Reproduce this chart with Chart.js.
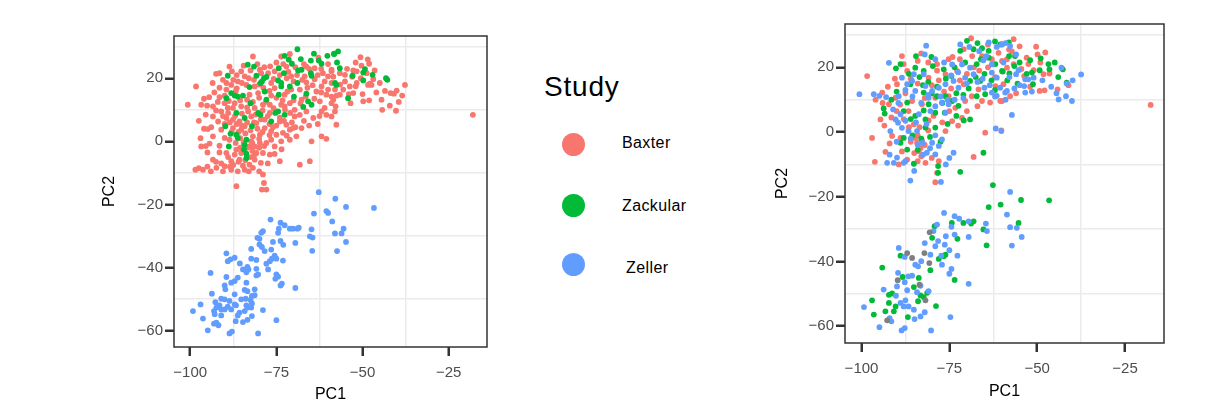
<!DOCTYPE html>
<html>
<head>
<meta charset="utf-8">
<script src="https://cdn.jsdelivr.net/npm/chart.js@4.4.0/dist/chart.umd.min.js"></script>
<style>
  body { margin: 0; background: #fff; font-family: "Liberation Sans", Arial, sans-serif; }
  #wrap { position: relative; width: 1210px; height: 404px; overflow: hidden; }
  canvas { position: absolute; top: 0; }
  .leg { position: absolute; line-height: 1; color: #000; white-space: nowrap; }
  .dot { position: absolute; width: 23px; height: 23px; border-radius: 50%; }
</style>
</head>
<body>
<div id="wrap">
  <canvas id="left" width="500" height="404" style="left:0"></canvas>
  <canvas id="right" width="510" height="404" style="left:700px"></canvas>
  <div id="legend"></div>
</div>
<script>
// ticks
const xTicks = [-100, -75, -50, -25];
const xMinor = [-87.5, -62.5, -37.5];
const yTicks = [-60, -40, -20, 0, 20];
const yMinor = [-50, -30, -10, 10, 30];

const studies = ['Baxter', 'Zackular', 'Zeller'];
const colors = ['#F8766D', '#00BA38', '#619CFF'];
const otherColor = '#7F7F7F';

// left panel: PC1/PC2 coloured by study
const baxterPts = [
  [-50.6,26.7],[-48.1,24.6],[-50.3,24.0],[-48.8,21.6],[-51.7,22.2],[-52.7,22.5],[-56.6,21.6],[-59.0,22.2],
  [-46.9,19.7],[-47.4,17.9],[-48.4,17.9],[-51.7,18.5],[-53.7,17.4],[-55.1,19.0],[-55.6,16.4],[-56.6,14.8],
  [-52.7,15.3],[-53.5,12.1],[-58.5,13.2],[-57.8,11.1],[-49.8,12.7],[-48.1,13.0],[-44.5,13.2],[-41.9,15.3],
  [-40.9,15.1],[-40.1,16.1],[-37.7,17.9],[-42.1,11.3],[-40.3,9.7],[-44.3,10.0],[-18.0,8.4],[-57.6,5.3],
  [-55.1,21.1],[-47.9,18.3],
  [-81.8,26.9],[-92.5,21.4],[-98.3,17.4],[-100.7,11.6],[-96.8,11.6],[-95.1,11.3],[-93.4,11.1],[-91.5,14.0],
  [-90.5,19.5],[-88.6,23.7],[-87.9,22.2],[-85.2,22.2],[-84.2,20.6],[-86.2,19.0],[-88.1,17.9],[-79.8,22.7],
  [-77.4,21.6],[-75.5,22.2],[-76.5,18.5],[-81.3,17.4],[-80.3,15.3],[-82.8,14.8],[-75.5,16.9],[-72.1,23.7],
  [-70.7,20.6],[-66.8,20.6],[-66.3,18.7],[-63.9,19.7],[-61.5,21.6],[-60.0,20.6],[-59.0,22.7],[-61.9,17.4],
  [-60.0,16.4],[-63.4,15.8],[-59.0,14.2],[-62.4,12.7],[-61.0,10.6],[-59.0,12.1],[-68.2,16.4],[-67.7,13.2],
  [-71.1,12.1],[-72.6,14.8],[-73.6,11.6],[-76.9,11.6],[-78.9,11.6],[-81.3,10.6],[-85.2,11.1],[-87.6,10.6],
  [-89.1,10.6],[-91.0,9.5],[-93.4,7.9],[-91.9,6.3],[-93.9,4.5],[-94.9,3.9],[-91.0,3.7],[-93.4,1.6],
  [-96.8,-1.6],[-94.4,-0.7],[-90.0,1.1],[-87.6,4.2],[-85.7,6.3],[-84.2,4.8],[-82.3,7.9],[-80.8,5.8],
  [-78.4,6.9],[-78.4,4.2],[-79.8,2.1],[-81.8,1.6],[-82.8,-1.6],[-81.3,-1.6],[-80.8,-3.7],[-85.2,-3.7],
  [-86.6,-2.6],[-87.1,-4.2],[-85.7,-5.8],[-81.3,-5.8],[-82.8,-7.4],[-81.8,-8.4],[-84.2,-9.0],[-86.2,-9.5],
  [-88.1,-9.0],[-90.0,-7.9],[-92.4,-8.4],[-90.5,-9.5],[-96.3,-9.0],[-93.4,-5.8],[-86.6,-14.2],[-78.9,-10.5],
  [-78.6,-13.2],[-79.2,-15.3],[-77.9,-15.3],[-74.0,-6.3],[-71.1,3.7],[-70.2,4.2],[-71.1,0.5],[-75.0,2.1],
  [-75.5,-1.6],[-76.5,0.5],[-77.9,-0.5],[-74.0,6.3],[-72.1,5.3],[-69.7,7.9],[-68.2,8.4],[-69.7,10.0],
  [-61.9,1.6],[-60.5,0.8],[-64.8,0.0],[-65.3,-6.3],[-68.2,-7.4],[-72.6,11.1],[-76.9,9.0],[-83.2,9.5],
  [-89.5,7.4],[-87.6,6.9],[-88.6,0.5],[-91.5,-1.4],[-89.5,-3.7],[-88.1,-6.3],[-84.7,-7.7],[-81.3,-4.2],
  [-78.9,-3.7],[-76.9,-4.2],[-76.5,3.2],[-85.2,3.7],[-87.1,12.1],[-90.0,12.1],[-73.6,26.9],[-71.1,27.7],
  [-66.3,23.7],[-63.9,23.2],[-79.4,21.6],[-83.7,17.9],[-89.5,16.4],[-70.7,16.4],[-59.0,18.5],[-58.0,16.4],
  [-60.5,8.4],[-59.0,7.9],[-61.9,9.5],[-64.3,7.4],[-66.3,9.5],[-67.7,4.2],[-73.1,2.7],[-73.6,0.0],
  [-82.3,0.0],[-79.8,-0.5],[-69.2,1.6],[-91.5,21.6],
  [-86.5,16.8],[-85.0,18.5],[-83.0,20.0],[-81.5,19.5],[-80.0,18.0],[-78.8,17.0],[-77.0,16.0],[-75.8,19.8],
  [-74.0,21.0],[-72.0,20.0],[-70.0,19.0],[-69.0,21.0],[-67.5,19.5],[-66.0,17.0],[-64.5,17.8],[-63.0,21.0],
  [-62.0,23.0],[-61.0,19.0],[-60.5,14.8],[-62.0,15.5],[-64.0,13.5],[-66.5,14.2],[-68.0,12.0],[-70.0,13.0],
  [-71.8,15.8],[-73.2,13.0],[-75.0,13.8],[-76.5,14.5],[-78.0,12.5],[-80.0,13.8],[-81.8,12.5],[-83.5,13.2],
  [-85.5,13.0],[-86.8,15.8],[-88.8,12.8],[-90.0,14.5],[-92.0,12.5],[-89.0,9.0],[-87.0,8.0],[-85.0,8.8],
  [-83.5,10.8],[-81.0,8.5],[-79.0,9.8],[-77.5,8.0],[-75.8,10.5],[-74.0,7.5],[-72.5,10.0],[-71.0,9.0],
  [-70.5,6.0],[-72.8,6.5],[-75.0,5.0],[-77.0,5.5],[-79.5,7.0],[-81.5,6.0],[-83.5,6.0],[-85.0,5.0],
  [-86.5,5.5],[-88.5,6.0],[-90.5,8.0],[-92.5,9.8],[-90.0,5.5],[-88.0,3.0],[-86.0,3.0],[-84.0,2.5],
  [-82.5,3.5],[-80.5,4.0],[-79.0,3.0],[-77.0,2.0],[-76.0,4.5],[-82.0,-0.5],[-84.5,-0.5],[-86.8,-0.5],
  [-85.5,1.0],[-80.0,0.8],[-78.5,-1.5],[-80.0,-2.0],[-82.0,-3.0],[-83.5,-2.0],[-85.5,-2.0],[-86.0,-6.5],
  [-84.0,-6.0],[-82.5,-5.0],[-83.0,-9.5],[-87.5,-7.5],[-89.0,-5.0],[-91.5,-3.5],[-92.5,-6.5],[-95.0,-3.5],
  [-97.5,-8.5],[-98.5,-9.0],[-95.0,-8.0],[-94.0,-9.5],[-91.0,-7.0],[-88.5,-8.0],[-80.0,-9.5],[-79.5,-6.8],
  [-77.5,-7.0],[-75.5,-4.0],[-73.5,-2.5],[-72.0,1.8],[-69.5,4.5],[-67.0,6.5],[-65.5,5.0],[-63.0,5.5],
  [-62.5,8.0],[-58.0,9.5],[-57.5,14.5],[-56.5,18.0],[-58.5,20.5],[-60.0,24.5],[-62.8,26.5],[-65.5,23.0],
  [-67.0,24.5],[-69.5,23.5],[-71.5,22.0],[-73.0,24.5],[-75.0,25.0],[-76.8,23.8],[-78.5,23.5],[-80.5,24.5],
  [-82.5,22.5],[-84.5,24.0],[-86.5,21.0],[-87.5,19.5],[-89.5,18.5],[-91.5,17.0],[-93.0,15.5],[-94.5,14.0],
  [-96.0,13.5],[-93.5,18.5],[-95.5,8.5],[-97.5,6.5],[-96.0,4.0],[-97.0,1.0],[-95.5,-1.5],[-54.0,15.0],
  [-52.0,17.5],[-50.5,20.0],[-53.0,20.5],[-54.5,23.0],[-52.0,25.0],[-48.5,26.0],[-46.5,22.5],[-45.0,18.5],
  [-50.0,15.0],[-46.0,15.5],[-43.5,16.0],[-39.5,12.5],[-38.5,14.5]
];
const zackularPts = [
  [-68.9,29.2],[-72.6,27.1],[-71.4,25.9],[-70.5,24.6],[-67.9,26.1],[-64.1,27.8],[-62.7,25.6],[-61.9,24.6],
  [-60.2,27.1],[-58.2,27.8],[-65.0,25.6],[-83.3,24.3],[-81.5,23.7],[-89.1,20.8],[-74.3,23.2],[-72.8,21.6],
  [-68.7,22.5],[-67.7,22.7],[-65.0,21.6],[-64.8,20.8],[-78.6,20.0],[-77.9,20.4],[-79.2,19.0],[-79.6,18.5],
  [-74.5,19.3],[-73.6,18.5],[-71.1,17.4],[-68.9,18.5],[-82.8,17.2],[-88.1,15.3],[-87.1,14.5],[-86.2,14.2],
  [-84.7,14.5],[-89.5,13.7],[-78.4,15.8],[-77.9,13.2],[-74.3,14.8],[-69.9,14.2],[-66.3,15.1],[-65.8,12.7],
  [-64.8,11.6],[-67.2,10.9],[-82.5,12.1],[-86.6,9.0],[-80.3,9.0],[-79.6,8.4],[-75.3,9.0],[-74.5,9.5],
  [-72.6,8.4],[-76.5,6.3],[-84.2,7.4],[-82.1,4.8],[-89.8,4.8],[-88.3,2.4],[-86.6,2.1],[-86.2,1.1],
  [-88.8,-1.6],[-83.7,0.5],[-84.2,-1.1],[-84.4,-2.6],[-83.7,-5.3],[-83.7,-3.9],[-73.6,17.4],[-80.8,20.8],
  [-58.3,27.7],[-57.1,28.5],[-57.4,25.0],[-56.6,23.2],[-52.9,20.8],[-49.8,21.8],[-49.3,22.9],[-47.1,21.1],
  [-49.8,19.3],[-43.2,20.0],[-42.8,19.5],[-58.0,18.5],[-57.6,17.9],[-54.2,13.7]
];
const zellerPts = [
  [-62.7,-16.1],[-57.9,-18.2],[-54.8,-20.8],[-46.7,-21.1],[-64.1,-22.9],[-60.5,-22.1],[-60.0,-22.7],[-58.8,-25.4],
  [-55.5,-27.7],[-56.1,-29.2],[-58.0,-29.2],[-54.8,-31.9],[-57.4,-34.8],[-64.8,-27.9],[-65.3,-30.1],[-64.5,-30.5],
  [-64.6,-34.7],[-69.5,-32.2],[-68.9,-27.7],[-68.5,-27.4],[-70.2,-27.7],[-71.1,-27.7],[-72.6,-26.6],[-73.8,-25.8],
  [-74.3,-27.7],[-74.5,-29.0],[-76.7,-24.8],[-73.8,-31.6],[-73.0,-32.8],[-76.0,-31.9],[-78.9,-28.5],[-79.4,-29.0],
  [-80.5,-30.6],[-79.9,-30.9],[-79.9,-32.7],[-79.2,-33.5],[-78.4,-34.8],[-76.5,-34.3],[-82.3,-34.1],[-75.5,-36.2],
  [-76.3,-37.2],[-76.9,-38.0],[-77.9,-38.8],[-77.4,-40.6],[-73.1,-37.8],[-80.8,-37.6],[-82.3,-37.2],[-89.5,-35.5],
  [-89.1,-38.0],[-88.3,-37.4],[-87.1,-36.9],[-85.6,-38.7],[-83.4,-39.8],[-83.1,-40.6],[-84.7,-40.6],[-83.7,-41.5],
  [-80.8,-40.4],[-80.3,-42.2],[-80.8,-42.5],[-75.0,-42.2],[-74.5,-42.9],[-75.3,-43.6],[-73.4,-45.1],[-73.8,-45.7],
  [-69.5,-46.5],[-94.1,-41.7],[-89.5,-43.0],[-86.2,-43.2],[-87.1,-44.3],[-88.1,-44.8],[-90.0,-45.7],[-89.8,-46.9],
  [-83.7,-44.8],[-84.2,-47.1],[-83.4,-47.5],[-81.3,-48.8],[-82.1,-49.0],[-82.5,-50.3],[-82.1,-51.4],[-87.1,-48.5],
  [-93.7,-48.3],[-91.0,-49.9],[-90.0,-50.1],[-92.7,-51.0],[-91.5,-52.0],[-92.4,-52.7],[-90.0,-53.3],[-89.1,-52.4],
  [-86.7,-52.0],[-85.2,-50.1],[-83.9,-49.9],[-83.7,-52.0],[-83.4,-52.7],[-84.2,-53.8],[-82.3,-52.7],[-85.7,-54.3],
  [-86.2,-55.2],[-82.1,-55.4],[-78.9,-53.5],[-83.4,-56.6],[-84.7,-57.3],[-86.8,-57.0],[-91.0,-55.2],[-92.9,-54.8],
  [-93.1,-53.8],[-97.0,-51.7],[-99.2,-53.8],[-96.3,-56.2],[-92.4,-57.5],[-91.8,-58.3],[-93.1,-57.8],[-94.9,-59.9],
  [-88.6,-60.9],[-87.9,-60.3],[-80.3,-60.9],[-75.0,-56.7],[-88.1,-53.3],[-88.6,-50.6],[-87.1,-51.7],[-81.3,-46.9],
  [-91.0,-53.3],[-75.0,-37.2]
];

// right panel: same PCA, different colouring
const rightBaxter = [
  [-68.8,29.0],[-98.4,17.3],[-88.5,23.5],[-88.0,21.0],[-83.0,24.3],[-87.0,18.9],[-89.9,14.8],[-92.2,8.6],
  [-94.6,3.9],[-97.0,-1.8],[-93.2,-6.1],[-96.2,-9.2],[-88.9,-1.8],[-91.3,-1.2],[-84.2,-3.3],[-83.2,-4.9],
  [-83.7,-5.9],[-84.7,-1.8],[-85.1,2.4],[-80.9,3.6],[-79.5,5.0],[-86.6,6.5],[-85.6,9.6],[-82.8,8.6],
  [-79.0,10.6],[-75.2,11.1],[-73.3,7.5],[-74.2,3.4],[-76.1,0.3],[-71.4,4.4],[-70.5,9.6],[-68.6,11.1],
  [-66.7,13.2],[-65.7,9.6],[-63.4,9.1],[-60.5,9.6],[-61.9,14.2],[-65.7,23.5],[-62.9,22.5],[-75.2,22.5],
  [-78.5,21.0],[-80.9,16.8],[-76.1,17.9],[-72.8,18.9],[-70.9,14.8],[-74.1,23.2],[-70.9,25.6],[-64.8,-0.2],
  [-68.1,-7.7],[-89.4,-10.0],[-81.8,-9.5],[-78.5,-12.6],[-79.0,-15.5],[-82.8,-2.6],[-94.1,12.2],[-90.3,10.6],
  [-56.7,28.7],[-50.3,26.4],[-47.7,24.6],[-49.9,24.0],[-57.2,24.9],[-58.6,22.5],[-49.1,21.5],[-52.5,21.0],
  [-56.7,21.0],[-51.0,19.1],[-53.7,17.3],[-48.2,17.9],[-46.5,18.1],[-49.3,12.7],[-47.9,12.9],[-44.2,13.2],
  [-41.1,14.5],[-57.7,11.1],[-60.0,9.6],[-17.7,8.4],[-60.2,0.5],[-58.6,19.9],[-59.6,14.8],
  [-86.0,16.5],[-84.0,15.0],[-82.0,10.5],[-80.0,14.5],[-78.0,16.0],[-76.5,12.5],[-74.5,13.5],[-72.0,16.0],
  [-70.0,18.0],[-68.0,20.0],[-66.5,19.0],[-64.0,20.0],[-62.0,17.0],[-60.0,22.0],[-58.0,25.5],[-55.0,26.5],
  [-53.0,23.0],[-54.5,19.5],[-52.0,14.0],[-56.0,12.0],[-84.0,-1.0],[-86.0,-3.0],[-85.0,-6.5],[-83.0,-7.5],
  [-82.0,-4.0],[-81.0,0.5],[-83.5,1.5],[-86.5,1.5],[-88.0,4.0],[-90.0,6.5],[-91.5,4.5],[-93.5,2.0],
  [-92.0,-3.5],[-88.5,-6.0],[-87.0,-8.5],[-84.0,-9.0],[-80.0,-8.0],[-78.0,-9.0],[-77.0,3.0],[-75.0,6.5],
  [-72.5,2.0],[-70.0,6.5],[-67.0,8.0],[-89.0,8.5],[-87.5,12.0],[-90.5,16.5],[-92.5,14.0],[-96.0,10.0],
  [-94.0,9.0],[-78.5,19.0],[-81.0,21.5],[-84.0,22.0],[-72.0,22.5],[-68.5,23.5],[-64.0,27.0],[-61.0,24.5]
];
const rightZackular = [
  [-84.5,23.5],[-90.2,19.7],[-88.9,21.0],[-84.7,19.9],[-82.3,18.9],[-80.1,23.2],[-79.7,20.4],[-76.6,19.4],
  [-74.4,17.3],[-71.9,25.1],[-70.0,28.2],[-68.1,25.6],[-65.7,25.9],[-63.8,25.1],[-60.5,27.1],[-63.8,23.0],
  [-67.2,21.0],[-61.9,21.0],[-66.2,15.8],[-69.1,15.8],[-64.8,11.7],[-67.2,11.1],[-60.0,18.9],[-76.1,11.1],
  [-78.5,11.1],[-82.3,12.2],[-86.1,14.8],[-87.0,9.1],[-93.7,7.3],[-93.4,5.7],[-84.7,5.0],[-82.3,6.7],
  [-81.8,3.9],[-79.0,6.0],[-76.3,6.0],[-79.0,1.4],[-81.8,1.4],[-88.0,-1.8],[-87.0,-5.4],[-88.9,-3.3],
  [-70.9,3.6],[-69.1,3.9],[-65.3,-6.4],[-85.1,-9.8],[-78.2,-10.5],[-78.2,-12.6],[-71.9,-12.3],[-62.6,-16.4],
  [-74.2,9.6],[-72.4,8.1],[-80.9,8.6],
  [-58.1,27.7],[-60.0,27.1],[-56.3,23.5],[-56.5,20.4],[-52.0,22.2],[-49.0,22.8],[-46.8,21.0],[-46.5,19.4],
  [-49.3,19.1],[-51.5,18.4],[-55.6,15.0],[-51.2,14.8],[-41.6,15.3],[-42.7,19.4],[-59.8,18.7],[-57.9,18.1],
  [-86.5,18.0],[-83.5,17.0],[-81.0,15.5],[-78.5,14.0],[-76.0,16.5],[-73.0,12.0],[-71.0,11.5],[-69.5,13.5],
  [-67.5,17.0],[-65.0,18.0],[-63.0,16.0],[-62.0,13.0],[-58.5,16.0],[-58.0,23.5],[-55.0,21.5],[-53.0,18.0],
  [-90.0,12.5],[-91.5,10.0],[-88.0,6.5],[-86.0,4.0],[-84.0,-5.5],[-83.0,-2.0],[-85.5,-1.0],[-80.5,-1.5],
  [-77.5,-3.0],[-75.5,2.5],[-73.0,5.0],[-77.0,9.0],[-80.0,12.0],[-82.5,14.5],[-73.5,20.0],[-70.5,21.5],
  [-66.0,22.5],[-62.0,28.0],[-67.0,27.5],[-45.0,21.5],[-44.0,17.0],
  [-54.6,-21.0],[-46.6,-21.1],[-60.4,-22.4],[-63.8,-23.2],[-55.3,-28.1],[-68.1,-27.6],[-68.8,-28.3],[-71.0,-28.1],
  [-74.3,-28.1],[-79.2,-29.1],[-65.3,-30.1],[-64.4,-35.0],[-72.7,-33.0],[-79.9,-32.7],[-76.1,-37.9],[-76.6,-38.4],
  [-78.0,-39.2],[-88.9,-38.2],[-94.1,-41.9],[-80.4,-42.7],[-88.3,-44.8],[-83.7,-45.1],[-73.5,-45.7],[-85.1,-47.9],
  [-92.2,-50.3],[-91.3,-49.9],[-83.2,-50.5],[-82.3,-51.0],[-81.3,-49.7],[-97.0,-52.0],[-92.2,-52.8],[-90.3,-53.9],
  [-93.2,-55.4],[-90.8,-55.4],[-96.5,-56.4],[-83.9,-52.3],[-78.8,-53.8],[-86.8,-57.2]
];
const rightZeller = [
  [-81.6,26.7],[-92.2,21.4],[-100.6,11.7],[-96.5,11.7],[-94.9,11.2],[-93.0,10.8],[-89.4,11.1],[-88.5,16.8],
  [-85.1,17.9],[-87.0,14.8],[-84.7,12.7],[-81.8,14.2],[-79.9,12.7],[-78.0,13.7],[-76.1,14.8],[-73.8,15.8],
  [-72.4,13.7],[-70.5,16.8],[-69.1,19.9],[-68.1,17.9],[-71.9,27.1],[-69.3,26.3],[-63.8,27.7],[-61.5,26.3],
  [-60.1,27.1],[-62.9,20.9],[-61.5,16.8],[-65.0,13.7],[-62.9,12.2],[-61.5,11.2],[-77.1,9.1],[-75.2,8.6],
  [-80.9,10.6],[-80.4,6.5],[-88.9,5.5],[-90.3,3.9],[-89.6,2.9],[-91.8,0.3],[-88.5,1.3],[-86.6,0.3],
  [-84.2,0.3],[-79.9,-3.3],[-78.0,-4.3],[-77.1,-2.3],[-81.4,-6.4],[-79.0,-6.9],[-89.9,-7.9],[-92.7,-9.5],
  [-90.8,-9.5],[-87.5,-9.0],[-86.1,-15.0],[-77.4,-15.4],[-73.8,-6.4],[-61.8,1.1],[-60.2,0.3],[-82.3,17.9],
  [-85.6,15.8],[-74.2,20.9],[-71.4,20.9],[-65.3,22.2],[-62.9,18.4],[-60.5,13.7],[-76.1,6.0],[-82.6,-3.3],
  [-83.7,5.5],
  [-57.7,26.6],[-59.6,21.5],[-55.3,19.1],[-56.0,17.9],[-57.9,17.0],[-53.4,16.3],[-52.5,16.3],[-51.0,16.8],
  [-53.7,14.2],[-53.4,12.2],[-56.5,13.5],[-58.6,12.7],[-59.1,12.2],[-43.1,19.9],[-41.6,15.0],[-39.9,16.0],
  [-37.5,17.8],[-41.8,11.1],[-40.1,9.6],[-43.9,10.1],[-57.2,5.3],
  [-87.5,13.0],[-85.5,11.0],[-83.0,9.0],[-81.0,11.5],[-79.0,8.0],[-77.5,11.0],[-75.5,10.0],[-73.5,10.0],
  [-71.0,10.5],[-72.5,18.5],[-70.0,15.0],[-67.0,15.5],[-65.5,16.5],[-63.5,14.5],[-62.0,11.0],[-59.0,10.0],
  [-55.0,14.5],[-51.5,12.5],[-48.5,16.0],[-46.0,14.0],[-44.5,12.0],[-89.5,9.0],[-91.0,7.0],[-87.5,3.5],
  [-86.0,-2.0],[-84.0,-4.0],[-82.5,-7.0],[-80.5,-5.0],[-79.0,-1.0],[-81.5,2.5],[-84.5,3.0],[-90.0,-3.0],
  [-92.0,-7.0],[-88.0,-9.5],[-85.0,-12.0],[-75.0,-8.0],[-76.0,-10.0],[-74.5,17.5],[-76.5,21.5],[-79.0,22.5],
  [-82.0,24.0],[-66.5,25.0],[-64.5,23.5],[-59.0,27.5],[-56.0,24.0],
  [-57.7,-18.5],[-58.6,-25.5],[-76.5,-25.0],[-73.5,-26.0],[-72.2,-26.8],[-69.5,-27.6],[-64.6,-28.3],[-64.3,-30.6],
  [-74.4,-29.3],[-78.5,-28.6],[-79.5,-30.6],[-69.5,-32.4],[-73.5,-31.7],[-76.0,-32.2],[-78.2,-33.7],[-76.3,-34.8],
  [-82.0,-34.3],[-79.0,-35.3],[-75.0,-36.5],[-72.7,-38.2],[-77.3,-38.2],[-80.4,-37.9],[-89.4,-35.8],[-87.7,-38.6],
  [-83.0,-39.9],[-84.7,-41.0],[-83.9,-41.5],[-77.1,-41.0],[-74.4,-42.3],[-75.0,-43.8],[-85.6,-44.4],[-86.7,-44.6],
  [-89.6,-43.5],[-87.7,-46.4],[-89.9,-47.7],[-69.5,-46.9],[-83.2,-47.5],[-87.0,-48.9],[-93.7,-48.7],[-80.9,-49.2],
  [-84.2,-49.5],[-90.2,-50.6],[-88.9,-52.8],[-87.5,-52.0],[-86.6,-53.9],[-85.1,-54.9],[-82.0,-55.7],[-83.2,-57.0],
  [-84.9,-57.8],[-92.0,-57.5],[-91.5,-58.5],[-99.3,-54.1],[-94.9,-60.3],[-88.6,-61.3],[-87.7,-60.6],[-80.2,-61.3],
  [-74.7,-57.2],[-88.0,-53.9],[-57.2,-35.1],[-54.4,-32.4],[-55.8,-29.6],[-57.7,-29.4]
];
const rightOther = [
  [-80.6,-31.0],[-87.0,-37.4],[-85.6,-38.9],[-82.1,-37.4],[-80.7,-40.5],[-89.7,-45.8],[-83.5,-47.2],[-81.8,-52.0],
  [-92.7,-58.2]
];

const FONT = '"Liberation Sans", Arial, sans-serif';
const fmt = v => (v < 0 ? '\u2212' + Math.abs(v) : String(v));

const panelBorder = {
  id: 'panelBorder',
  afterDatasetsDraw(chart) {
    const { ctx, chartArea: a } = chart;
    ctx.save();
    ctx.strokeStyle = '#333333';
    ctx.lineWidth = 1.5;
    ctx.strokeRect(a.left, a.top, a.right - a.left, a.bottom - a.top);
    ctx.restore();
  }
};

function axis(majors, minors, min, max, title, fitSize, titlePad, horizontal) {
  const all = majors.concat(minors).sort((a, b) => a - b);
  return {
    type: 'linear',
    min: min,
    max: max,
    afterBuildTicks: s => { s.ticks = all.map(v => ({ value: v })); },
    afterFit: s => { if (horizontal) s.height = fitSize; else s.width = fitSize; },
    ticks: {
      autoSkip: false,
      maxRotation: 0,
      padding: horizontal ? 8 : 2,
      color: '#4d4d4d',
      font: { family: FONT, size: 15 },
      callback: v => (majors.includes(v) ? fmt(v) : '')
    },
    grid: {
      lineWidth: 1.5,
      color: c => (c.tick && majors.includes(c.tick.value) ? 'rgba(0,0,0,0)' : '#ebebeb'),
      tickColor: c => (c.tick && majors.includes(c.tick.value) ? '#333333' : 'rgba(0,0,0,0)'),
      tickLength: 9,
      tickWidth: 2.5
    },
    border: { display: false },
    title: {
      display: true,
      text: title,
      color: '#000',
      font: { family: FONT, size: 16 },
      padding: titlePad
    }
  };
}

function pts(arr) { return arr.map(p => ({ x: p[0], y: p[1] })); }

function ds(label, arr, color, order) {
  return {
    label: label,
    data: pts(arr),
    backgroundColor: color,
    borderWidth: 0,
    pointRadius: 2.9,
    order: order
  };
}

function makeChart(id, datasets, box) {
  return new Chart(document.getElementById(id), {
    type: 'scatter',
    data: { datasets: datasets },
    options: {
      responsive: false,
      animation: false,
      layout: { padding: { top: box.top, right: box.right, bottom: 0, left: 0 } },
      plugins: { legend: { display: false }, tooltip: { enabled: false } },
      scales: {
        x: axis(xTicks, xMinor, -104.7, -13.9, 'PC1', box.xh, { top: 0, bottom: box.titleBottom }, true),
        y: axis(yTicks, yMinor, -65.2, 33.4, 'PC2', box.yw, { top: box.titleLeft, bottom: 0 }, false)
      }
    },
    plugins: [panelBorder]
  });
}

makeChart('left', [
  ds(studies[0], baxterPts, colors[0], 3),
  ds(studies[1], zackularPts, colors[1], 2),
  ds(studies[2], zellerPts, colors[2], 1)
], { top: 36, right: 13, xh: 57, yw: 174, titleBottom: 0, titleLeft: 100 });

makeChart('right', [
  ds(studies[0], rightBaxter, colors[0], 4),
  ds(studies[1], rightZackular, colors[1], 3),
  ds(studies[2], rightZeller, colors[2], 2),
  ds('Other', rightOther, otherColor, 1)
], { top: 24, right: 46, xh: 61, yw: 145, titleBottom: 3, titleLeft: 73 });

// legend
const legend = document.getElementById('legend');
const legTop = [134.8, 198.2, 259.8];
const legDot = [144, 205, 264.5];
const legX = [622, 622, 626];
legend.innerHTML = '<div class="leg" style="left:544px;top:73px;font-size:28px;letter-spacing:0.8px">Study</div>' +
  studies.map((s, i) =>
    '<div class="dot" style="left:562px;top:' + (legDot[i] - 11.5) + 'px;background:' + colors[i] + '"></div>' +
    '<div class="leg" style="left:' + legX[i] + 'px;top:' + legTop[i] + 'px;font-size:16px;letter-spacing:0.4px">' + s + '</div>'
  ).join('');
</script>
</body>
</html>
